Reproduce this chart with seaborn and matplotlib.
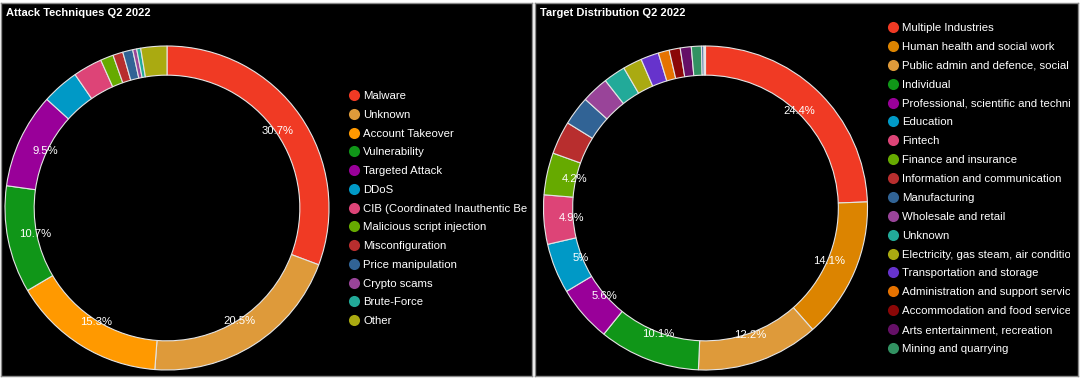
import matplotlib
matplotlib.use("Agg")
import matplotlib.pyplot as plt
import seaborn as sns
from matplotlib.lines import Line2D
from matplotlib.transforms import Bbox, TransformedBbox

# ---------------- data ----------------
attack_title = "Attack Techniques Q2 2022"
attack_labels = ["Malware", "Unknown", "Account Takeover", "Vulnerability", "Targeted Attack",
                 "DDoS", "CIB (Coordinated Inauthentic Behavior)", "Malicious script injection",
                 "Misconfiguration", "Price manipulation", "Crypto scams", "Brute-Force", "Other"]
attack_values = [30.7, 20.5, 15.3, 10.7, 9.5, 3.7, 2.9, 1.3, 1.0, 1.0, 0.4, 0.4, 2.6]
attack_colors = ["#f03a24", "#de9a3a", "#ff9900", "#109618", "#990099", "#0099c6", "#dd4477",
                 "#66aa00", "#b82e2e", "#316395", "#994499", "#22aa99", "#aaaa11"]

target_title = "Target Distribution Q2 2022"
target_labels = ["Multiple Industries", "Human health and social work",
                 "Public admin and defence, social security", "Individual",
                 "Professional, scientific and technical", "Education", "Fintech",
                 "Finance and insurance", "Information and communication", "Manufacturing",
                 "Wholesale and retail", "Unknown", "Electricity, gas steam, air conditioning",
                 "Transportation and storage", "Administration and support services",
                 "Accommodation and food services", "Arts entertainment, recreation",
                 "Mining and quarrying"]
target_values = [24.4, 14.1, 12.2, 10.1, 5.6, 5.0, 4.9, 4.2, 3.3, 2.9, 2.7, 2.2, 1.9, 1.8,
                 1.1, 1.1, 1.1, 1.0]
target_colors = ["#f03a24", "#dc8400", "#de9a3a", "#109618", "#990099", "#0099c6", "#dd4477",
                 "#66aa00", "#b82e2e", "#316395", "#994499", "#22aa99", "#aaaa11", "#6633cc",
                 "#e67300", "#8b0707", "#651067", "#329262"]
# two tiny unlabeled slices (legend entries cut off in the original)
target_extra_values = [0.25, 0.15]
target_extra_colors = ["#5574a6", "#dfe6f0"]

# ---------------- style ----------------
sns.set_theme(style="dark")
plt.rcParams['font.family'] = ['Liberation Sans', 'DejaVu Sans']

W, H = 1080, 380
fig = plt.figure(figsize=(W / 100, H / 100), dpi=100, facecolor="white")


def pct_fmt(p):
    if p < 4:
        return ""
    s = f"{p:.1f}"
    if s.endswith(".0"):
        s = s[:-2]
    return s + "%"


def panel(x0, x1, y0, y1, cx, cy, title, labels, values, colors,
          extra_vals, extra_cols, leg_x, leg_y, spacing, clip_x):
    ax = fig.add_axes([x0 / W, 1 - y1 / H, (x1 - x0) / W, (y1 - y0) / H])
    R = 162
    ax.pie(values + extra_vals, colors=colors + extra_cols, startangle=90,
           counterclock=False, radius=R, center=(cx, H - cy), frame=True,
           wedgeprops=dict(width=R * 0.18, edgecolor="#e4e4e4", linewidth=0.8),
           autopct=pct_fmt, pctdistance=0.83,
           textprops=dict(color="white", fontsize=8.1))
    ax.set_xlim(x0, x1)
    ax.set_ylim(H - y1, H - y0)
    ax.set_aspect("auto")
    ax.set_facecolor("black")
    ax.set_xticks([])
    ax.set_yticks([])
    ax.grid(False)
    for sp in ax.spines.values():
        sp.set_visible(True)
        sp.set_color("#8a8a8a")
        sp.set_linewidth(1.0)
    ax.text(x0 + 5, H - 13, title, color="white", fontsize=8.0, fontweight="bold",
            ha="left", va="center")
    handles = [Line2D([], [], marker="o", linestyle="none", markersize=8,
                      markerfacecolor=c, markeredgewidth=0) for c in colors]
    leg = ax.legend(handles, labels, loc="upper left",
                    bbox_to_anchor=(leg_x / W, 1 - leg_y / H), bbox_transform=fig.transFigure,
                    frameon=False, prop=dict(size=8.2), labelcolor="white",
                    labelspacing=spacing, handlelength=1.0, handletextpad=0.34,
                    borderpad=0, borderaxespad=0)
    clip = TransformedBbox(Bbox.from_extents(x0 / W, 0, clip_x / W, 1), fig.transFigure)
    for t in leg.get_texts():
        t.set_clip_on(True)
        t.set_clip_box(clip)
    return ax


panel(1, 532, 3, 376, 167, 208, attack_title, attack_labels, attack_values, attack_colors,
      [], [], 348, 91, 0.77, 528)
panel(535, 1078, 3, 376, 705.5, 208, target_title, target_labels, target_values, target_colors,
      target_extra_values, target_extra_colors, 887, 23, 0.78, 1070)

fig.savefig("out.png", dpi=100, facecolor="white")
